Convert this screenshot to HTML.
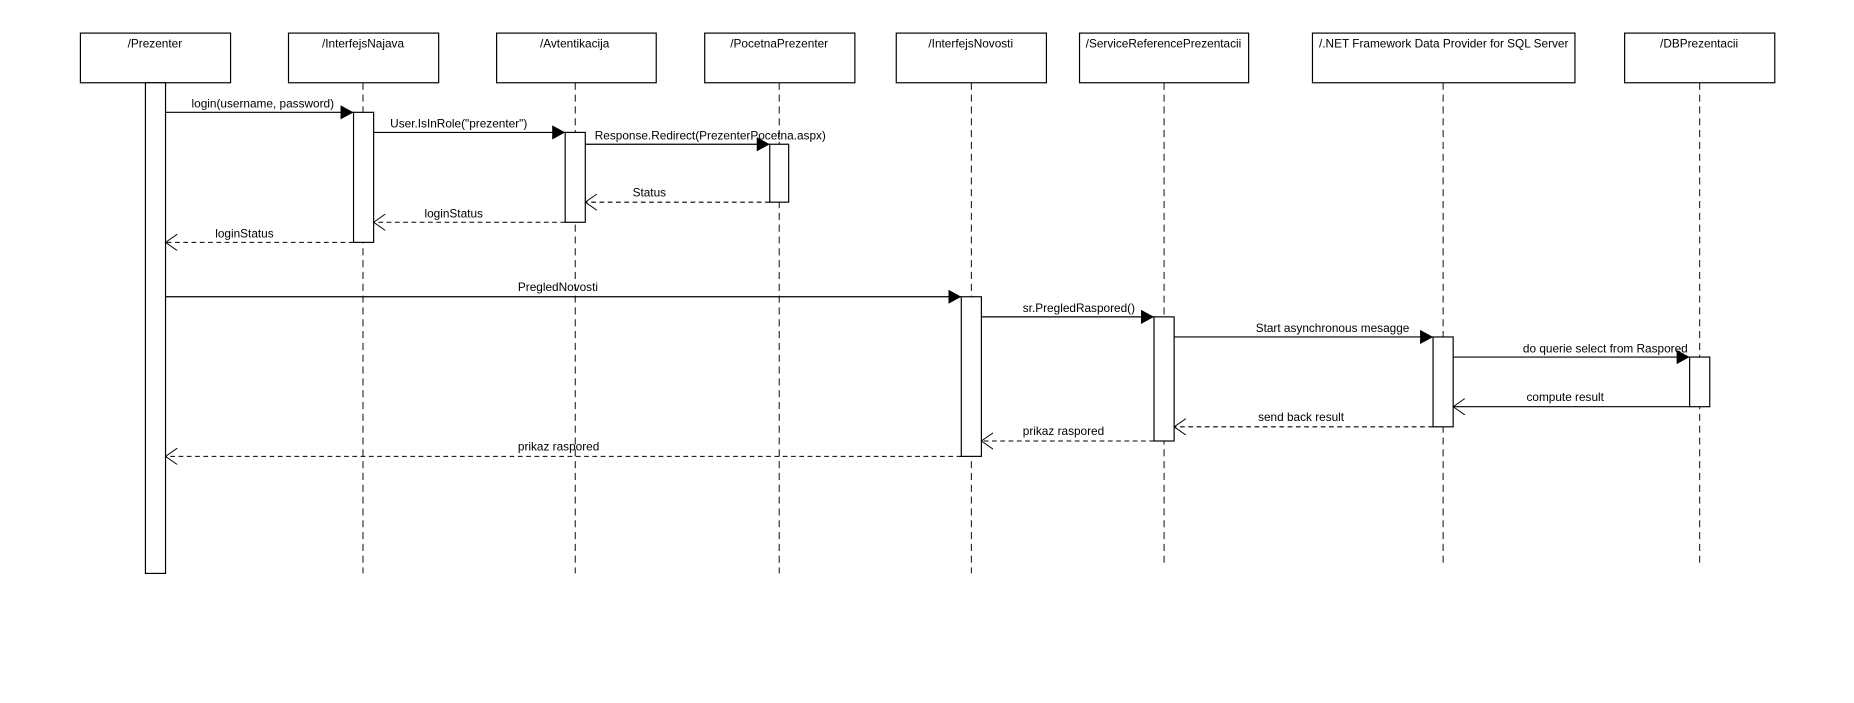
<!DOCTYPE html>
<html><head><style>html,body{margin:0;padding:0;background:#fff}svg{display:block}</style></head>
<body>
<svg width="1854" height="703" viewBox="0 0 1568 594.6" preserveAspectRatio="none" xmlns="http://www.w3.org/2000/svg" font-family="Liberation Sans, sans-serif" font-size="10">
<rect width="1568" height="595" fill="#fff"/>
<defs>
<marker id="f" markerWidth="12" markerHeight="12" refX="11" refY="6" orient="auto" markerUnits="userSpaceOnUse"><path d="M0,0 L11,6 L0,12 Z" fill="#000"/></marker>
<marker id="o" markerWidth="12" markerHeight="14" refX="10" refY="7" orient="auto" markerUnits="userSpaceOnUse"><path d="M0,0 L10,7 L0,14" fill="none" stroke="#000" stroke-width="0.8"/></marker>
</defs>
<g stroke="#000" stroke-width="0.8" stroke-dasharray="6,4">
<line x1="307" y1="70" x2="307" y2="485"/>
<line x1="486.5" y1="70" x2="486.5" y2="485"/>
<line x1="659" y1="70" x2="659" y2="485"/>
<line x1="821.5" y1="70" x2="821.5" y2="485"/>
<line x1="984.5" y1="70" x2="984.5" y2="480"/>
<line x1="1220.5" y1="70" x2="1220.5" y2="480"/>
<line x1="1437.5" y1="70" x2="1437.5" y2="480"/>
</g>
<g fill="#fff" stroke="#000" stroke-width="1">
<rect x="68" y="28" width="127" height="42"/>
<rect x="244" y="28" width="127" height="42"/>
<rect x="420" y="28" width="135" height="42"/>
<rect x="596" y="28" width="127" height="42"/>
<rect x="758" y="28" width="127" height="42"/>
<rect x="913" y="28" width="143" height="42"/>
<rect x="1110" y="28" width="222" height="42"/>
<rect x="1374" y="28" width="127" height="42"/>
</g>
<g text-anchor="middle">
<text x="131" y="40">/Prezenter</text>
<text x="307" y="40">/InterfejsNajava</text>
<text x="486" y="40">/Avtentikacija</text>
<text x="659" y="40">/PocetnaPrezenter</text>
<text x="821" y="40">/InterfejsNovosti</text>
<text x="984" y="40">/ServiceReferencePrezentacii</text>
<text x="1221" y="40">/.NET Framework Data Provider for SQL Server</text>
<text x="1437" y="40">/DBPrezentacii</text>
</g>
<g fill="#fff" stroke="#000" stroke-width="1">
<rect x="123" y="70" width="17" height="415"/>
<rect x="299" y="95" width="17" height="110"/>
<rect x="478" y="112" width="17" height="76"/>
<rect x="651" y="122" width="16" height="49"/>
<rect x="813" y="251" width="17" height="135"/>
<rect x="976" y="268" width="17" height="105"/>
<rect x="1212" y="285" width="17" height="76"/>
<rect x="1429" y="302" width="17" height="42"/>
</g>
<g stroke="#000" stroke-width="1" marker-end="url(#f)">
<line x1="140" y1="95" x2="299" y2="95"/>
<line x1="316" y1="112" x2="478" y2="112"/>
<line x1="495" y1="122" x2="651" y2="122"/>
<line x1="140" y1="251" x2="813" y2="251"/>
<line x1="830" y1="268" x2="976" y2="268"/>
<line x1="993" y1="285" x2="1212" y2="285"/>
<line x1="1229" y1="302" x2="1429" y2="302"/>
</g>
<line x1="1429" y1="344" x2="1229" y2="344" stroke="#000" stroke-width="1" marker-end="url(#o)"/>
<g stroke="#000" stroke-width="0.9" stroke-dasharray="4,3" marker-end="url(#o)">
<line x1="651" y1="171" x2="495" y2="171"/>
<line x1="478" y1="188" x2="316" y2="188"/>
<line x1="299" y1="205" x2="140" y2="205"/>
<line x1="1212" y1="361" x2="993" y2="361"/>
<line x1="976" y1="373" x2="830" y2="373"/>
<line x1="813" y1="386" x2="140" y2="386"/>
</g>
<g>
<text x="162" y="91">login(username, password)</text>
<text x="330" y="108">User.IsInRole("prezenter")</text>
<text x="503" y="118">Response.Redirect(PrezenterPocetna.aspx)</text>
<text x="535" y="166">Status</text>
<text x="359" y="184">loginStatus</text>
<text x="182" y="201">loginStatus</text>
<text x="438" y="246">PregledNovosti</text>
<text x="865" y="264">sr.PregledRaspored()</text>
<text x="1062" y="281">Start asynchronous mesagge</text>
<text x="1288" y="298">do querie select from Raspored</text>
<text x="1291" y="339">compute result</text>
<text x="1064" y="356">send back result</text>
<text x="865" y="368">prikaz raspored</text>
<text x="438" y="381">prikaz raspored</text>
</g>
</svg>
</body></html>
